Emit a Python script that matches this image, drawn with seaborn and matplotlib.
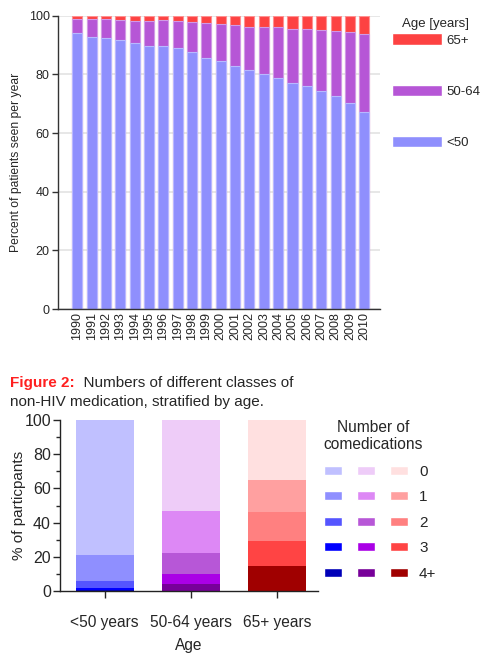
import matplotlib
matplotlib.use('Agg')
import matplotlib.pyplot as plt
import seaborn as sns
import numpy as np
from matplotlib.patches import Patch
from matplotlib.legend_handler import HandlerTuple

# ---------------- data: figure 1 ----------------
years = [str(y) for y in range(1990, 2011)]
pct_lt50 = [94.1, 92.8, 92.5, 91.8, 90.8, 89.8, 89.5, 89.1, 87.6, 85.7, 84.5,
            83.0, 81.5, 80.0, 78.9, 77.1, 75.9, 74.3, 72.7, 70.2, 67.3]
pct_50_64 = [4.8, 6.1, 6.5, 6.7, 7.5, 8.5, 8.9, 9.2, 10.3, 11.8, 12.8,
             13.9, 14.8, 16.2, 17.1, 18.5, 19.7, 20.9, 22.2, 24.4, 26.6]
pct_65 = [1.1, 1.1, 1.0, 1.5, 1.7, 1.7, 1.6, 1.7, 2.1, 2.5, 2.7,
          3.1, 3.7, 3.8, 4.0, 4.4, 4.4, 4.8, 5.1, 5.4, 6.1]
age_labels = ['<50', '50-64', '65+']
age_colors = ['#8F8FFD', '#B656D6', '#FD4242']
age_edges = ['#B8B8FF', '#D09AE6', '#FF9090']

# ---------------- data: figure 2 ----------------
groups = ['<50 years', '50-64 years', '65+ years']
comed_labels = ['0', '1', '2', '3', '4+']
comed_lt50 = [79.0, 15.2, 3.9, 1.2, 0.7]
comed_50_64 = [53.0, 24.6, 12.3, 5.8, 4.3]
comed_65 = [35.1, 18.7, 17.0, 14.4, 14.8]
blue_shades = ['#C0C0FF', '#8F8FFF', '#5555FF', '#0000FF', '#0000B8']
purple_shades = ['#EECCF8', '#DD88F5', '#B757D7', '#AA00E6', '#770099']
red_shades = ['#FFE0E0', '#FFA0A0', '#FF8080', '#FF4444', '#A00000']

sns.set_style('ticks')
plt.rcParams['font.family'] = ['Liberation Sans', 'DejaVu Sans']

W, H = 482, 655
fig = plt.figure(figsize=(W / 100, H / 100), dpi=100)

# ================= top chart =================
ax1 = fig.add_axes([58 / W, 346 / H, 322 / W, 293.3 / H])
s1 = np.array(pct_lt50)
s2 = s1 + np.array(pct_50_64)
s3 = s2 + np.array(pct_65)
for vals, col, ec in zip([s3, s2, s1], age_colors[::-1], age_edges[::-1]):
    sns.barplot(x=years, y=vals, color=col, saturation=1, width=0.7,
                errorbar=None, edgecolor=ec, linewidth=0.8, ax=ax1)
ax1.set_xlim(-1.35, 21.1)
ax1.set_ylim(0, 100)
ax1.set_yticks([0, 20, 40, 60, 80, 100])
ax1.yaxis.grid(True, color='#E3E3E3', lw=1.2)
ax1.xaxis.grid(False)
ax1.set_axisbelow(True)
for sp in ['top', 'right']:
    ax1.spines[sp].set_visible(False)
for sp in ['left', 'bottom']:
    ax1.spines[sp].set_color('#333333')
    ax1.spines[sp].set_linewidth(1.0)
ax1.tick_params(axis='y', length=4, width=1, color='#333333', labelsize=9, pad=2)
ax1.tick_params(axis='x', length=0, labelsize=9, pad=2.5, rotation=90)
ax1.set_xlabel('')
ax1.set_ylabel('Percent of patients seen per year', fontsize=8.7, labelpad=4.5)

h1 = [Patch(facecolor=c) for c in age_colors[::-1]]
fig.legend(h1, age_labels[::-1], loc='upper left',
           bbox_to_anchor=(391.7 / W, 1 - 33.5 / H), frameon=False,
           fontsize=9.5, handlelength=3.8, handleheight=1.0,
           labelspacing=2.85, handletextpad=0.33, borderpad=0, borderaxespad=0)
fig.text(436 / W, 1 - 24 / H, 'Age [years]', fontsize=9.5, ha='center', va='center')

# ================= caption =================
t = fig.text(10 / W, 1 - 383 / H, 'Figure 2:', color='#FF2020', fontweight='bold',
             fontsize=11, va='center', ha='left')
fig.text(10 / W, 1 - 402 / H, 'non-HIV medication, stratified by age.',
         fontsize=11, va='center', ha='left')
fig.canvas.draw()
bb = t.get_window_extent()
fig.text(bb.x1 / W, 1 - 383 / H, '  Numbers of different classes of',
         fontsize=11, va='center', ha='left')

# ================= bottom chart =================
ax2 = fig.add_axes([60 / W, 64 / H, 258 / W, 171 / H])
vals_by_group = [comed_lt50, comed_50_64, comed_65]
for k in range(len(comed_labels)):
    cum = [sum(v[k:]) for v in vals_by_group]
    pal = [blue_shades[k], purple_shades[k], red_shades[k]]
    sns.barplot(x=groups, y=cum, hue=groups, palette=pal, legend=False,
                saturation=1, width=0.67, errorbar=None, linewidth=0, ax=ax2)
ax2.set_xlim(-0.52, 2.48)
ax2.set_ylim(0, 100)
ax2.set_yticks([0, 20, 40, 60, 80, 100])
ax2.set_yticks([10, 30, 50, 70, 90], minor=True)
for sp in ['top', 'right']:
    ax2.spines[sp].set_visible(False)
for sp in ['left', 'bottom']:
    ax2.spines[sp].set_color('#222222')
    ax2.spines[sp].set_linewidth(1.0)
ax2.tick_params(axis='y', which='major', length=5, width=1, labelsize=11.5, pad=1.5)
ax2.tick_params(axis='y', which='minor', length=3, width=1, left=True)
ax2.tick_params(axis='x', length=5, width=1, labelsize=11.2, pad=12)
ax2.set_xlabel('Age', fontsize=11.2, labelpad=6)
ax2.set_ylabel('% of particpants', fontsize=11, labelpad=-1)

h2 = [tuple(Patch(facecolor=c[k]) for c in (blue_shades, purple_shades, red_shades))
      for k in range(len(comed_labels))]
fig.legend(h2, comed_labels, loc='upper left',
           bbox_to_anchor=(324 / W, 1 - 464.5 / H), frameon=False,
           handler_map={tuple: HandlerTuple(ndivide=None, pad=1.0)},
           fontsize=11, handlelength=5.5, handleheight=0.52,
           labelspacing=0.76, handletextpad=0.72, borderpad=0, borderaxespad=0)
fig.text(373.5 / W, 1 - 436 / H, 'Number of\ncomedications', fontsize=11.2,
         ha='center', va='center', linespacing=1.15)

fig.savefig('out.png', dpi=100)
